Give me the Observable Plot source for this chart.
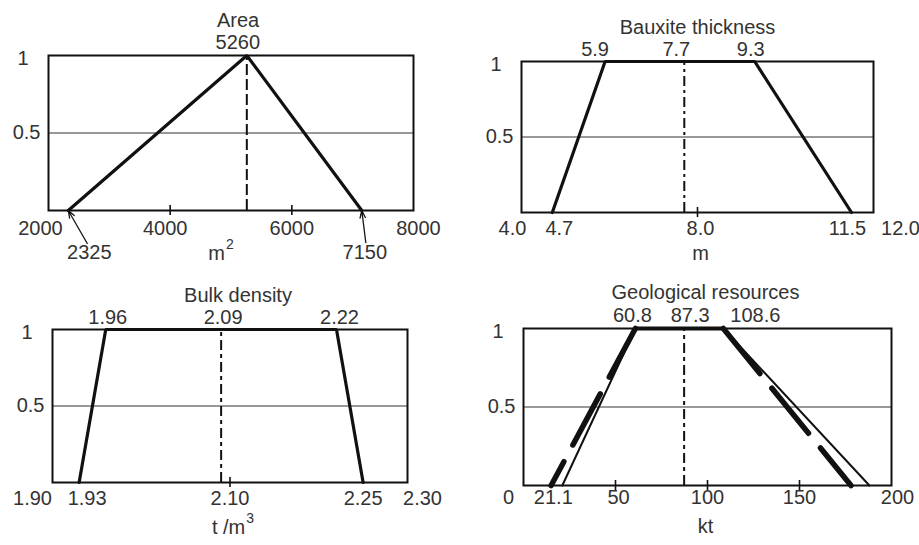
<!DOCTYPE html>
<html><head><meta charset="utf-8">
<script src="https://cdn.jsdelivr.net/npm/d3@7"></script>
<script src="https://cdn.jsdelivr.net/npm/@observablehq/plot@0.6"></script>
<style>
html,body{margin:0;padding:0;background:#fff;}
#wrap{position:relative;width:919px;height:545px;overflow:hidden;background:#fff;}
#wrap svg{position:absolute;overflow:visible;}
</style></head><body><div id="wrap"></div>
<script>
// ---------- Data ----------
// Area (m²)
const areaTitle = "Area";
const areaX = [2325, 5260, 7150];
const areaY = [0, 1, 0];
const areaMode = 5260;
const areaAxisLabels = ["2000", "4000", "6000", "8000"];
const areaTicks = [4000, 6000];
const areaTopLabels = ["5260"];
const areaArrowLabels = ["2325", "7150"];
const areaUnit = ["m", "2"];

// Bauxite thickness (m)
const thickTitle = "Bauxite thickness";
const thickX = [4.7, 5.9, 9.3, 11.5];
const thickY = [0, 1, 1, 0];
const thickMode = 7.7;
const thickAxisLabels = ["4.0", "4.7", "8.0", "11.5", "12.0"];
const thickTicks = [8.0];
const thickTopLabels = ["5.9", "7.7", "9.3"];
const thickUnit = ["m", ""];

// Bulk density (t/m³)
const densTitle = "Bulk density";
const densX = [1.93, 1.96, 2.22, 2.25];
const densY = [0, 1, 1, 0];
const densMode = 2.09;
const densAxisLabels = ["1.90", "1.93", "2.10", "2.25", "2.30"];
const densTicks = [2.10];
const densTopLabels = ["1.96", "2.09", "2.22"];
const densUnit = ["t /m", "3"];

// Geological resources (kt)
const geoTitle = "Geological resources";
const geoX = [21.1, 60.8, 108.6, 188];
const geoY = [0, 1, 1, 0];
const geoDashX = [15, 60.8, 108.6, 178];
const geoDashY = [0, 1, 1, 0];
const geoMode = 87.3;
const geoAxisLabels = ["0", "21.1", "50", "100", "150", "200"];
const geoTicks = [50, 100, 150];
const geoTopLabels = ["60.8", "87.3", "108.6"];
const geoUnit = ["kt", ""];

// ---------- Rendering ----------
const FONT = 20;
const SUP = 14;
const INK = "#111";
const TXT = "#333";
const FAMILY = "'Liberation Sans', Arial, Helvetica, sans-serif";
const recs = (xs, ys) => xs.map((x, i) => ({x, y: ys[i]}));
const ctx = document.createElement("canvas").getContext("2d");
function textWidth(s, size) { ctx.font = size + "px 'Liberation Sans', Arial, sans-serif"; return ctx.measureText(s).width; }

function buildPanel(cfg) {
  const fw = cfg.width - cfg.ml - cfg.mr;
  const fh = cfg.height - cfg.mt - cfg.mb;
  const [x0, x1] = cfg.domain;
  const ux = (x1 - x0) / fw;
  const uy = 1 / fh;
  const t = {fontSize: FONT, fill: TXT, lineAnchor: "middle"};
  const marks = [
    Plot.ruleY([0.5], {stroke: "#333", strokeWidth: 1}),
    Plot.ruleX([cfg.mode], {y1: 0, y2: 1, stroke: INK, strokeWidth: 2, strokeDasharray: cfg.modeDash}),
    Plot.ruleX(cfg.ticks, {x: d => d, y1: -5 * uy, y2: 5 * uy, stroke: INK, strokeWidth: 1.6}),
    Plot.frame({stroke: INK, strokeWidth: 2})
  ];
  for (const c of cfg.curves) marks.push(c);
  // y labels
  marks.push(Plot.text(["1"], {...t, x: x0, y: 1, text: d => d, textAnchor: "end", dx: -20, dy: 3}));
  marks.push(Plot.text(["0.5"], {...t, x: x0, y: 0.5, text: d => d, textAnchor: "end", dx: -8}));
  // bottom labels
  for (const lab of cfg.axisLabels) {
    marks.push(Plot.text([lab], {...t, x: +lab, y: 0, text: d => d, dy: cfg.bottomDy, dx: (cfg.bottomDx[lab] || 0)}));
  }
  // top labels
  for (const lab of cfg.topLabels) {
    marks.push(Plot.text([lab], {...t, x: +lab, y: 1, text: d => d, dy: cfg.topDy, dx: (cfg.topDx[lab] || 0)}));
  }
  // arrows + labels below (Area panel)
  if (cfg.arrowLabels) {
    for (const lab of cfg.arrowLabels) {
      const a = cfg.arrowOffsets[lab];
      marks.push(Plot.arrow([+lab], {x1: d => d + a.sx * ux, y1: -a.sy * uy, x2: d => d, y2: 0,
        stroke: INK, strokeWidth: 1.3, headLength: 9, headAngle: 40}));
      marks.push(Plot.text([lab], {...t, x: +lab, y: 0, text: d => d, dx: a.lx, dy: 42}));
    }
  }
  // title
  marks.push(Plot.text([cfg.title], {...t, frameAnchor: "top", text: d => d, dy: cfg.titleDy, dx: cfg.titleDx || 0}));
  // unit with optional superscript
  const [base, sup] = cfg.unit;
  const bw = textWidth(base, FONT), sw = sup ? textWidth(sup, SUP) + 1 : 0;
  const startDx = (cfg.unitDx || 0) - (bw + sw) / 2;
  marks.push(Plot.text([base], {...t, frameAnchor: "bottom", text: d => d, textAnchor: "start", dy: cfg.unitDy, dx: startDx}));
  if (sup) marks.push(Plot.text([sup], {...t, fontSize: SUP, frameAnchor: "bottom", text: d => d, textAnchor: "start", dy: cfg.unitDy - 9, dx: startDx + bw + 1}));

  const svg = Plot.plot({
    width: cfg.width, height: cfg.height,
    marginLeft: cfg.ml, marginRight: cfg.mr, marginTop: cfg.mt, marginBottom: cfg.mb,
    x: {domain: cfg.domain, axis: null},
    y: {domain: [0, 1], axis: null},
    style: {fontFamily: FAMILY, fontSize: FONT + "px", background: "transparent", overflow: "visible"},
    marks
  });
  svg.style.position = "absolute";
  svg.style.left = cfg.left + "px";
  svg.style.top = cfg.top + "px";
  svg.style.maxWidth = "none";
  document.getElementById("wrap").appendChild(svg);
}

const thick = {stroke: INK, strokeWidth: 3.2, strokeLinejoin: "miter"};

// Panel 1: Area
buildPanel({
  left: 0, top: 0, width: 460, height: 270, ml: 48, mr: 47, mt: 55, mb: 60,
  domain: [2000, 8000], mode: areaMode, modeDash: "11,4", ticks: areaTicks,
  curves: [Plot.line(recs(areaX, areaY), {x: "x", y: "y", ...thick})],
  axisLabels: areaAxisLabels, bottomDy: 18, bottomDx: {"2000": -8, "4000": -5, "8000": 5},
  topLabels: areaTopLabels, topDy: -13, topDx: {"5260": -9},
  arrowLabels: areaArrowLabels,
  arrowOffsets: {"2325": {sx: 19, sy: 33, lx: 21}, "7150": {sx: 4, sy: 32, lx: 3}},
  title: areaTitle, titleDy: -35, titleDx: 7, unit: areaUnit, unitDy: 43, unitDx: -10
});

// Panel 2: Bauxite thickness
buildPanel({
  left: 460, top: 0, width: 459, height: 270, ml: 61, mr: 46, mt: 61, mb: 58,
  domain: [4, 12], mode: thickMode, modeDash: "10,4,3,4", ticks: thickTicks,
  curves: [Plot.line(recs(thickX, thickY), {x: "x", y: "y", ...thick})],
  axisLabels: thickAxisLabels, bottomDy: 16, bottomDx: {"4.0": -9, "4.7": 7, "8.0": 3, "11.5": -4, "12.0": 27},
  topLabels: thickTopLabels, topDy: -12, topDx: {"5.9": -10, "7.7": -8, "9.3": -4},
  title: thickTitle, titleDy: -34, unit: thickUnit, unitDy: 41, unitDx: 3
});

// Panel 3: Bulk density
buildPanel({
  left: 0, top: 270, width: 460, height: 275, ml: 52, mr: 53, mt: 59, mb: 63,
  domain: [1.9, 2.3], mode: densMode, modeDash: "10,4,4,4", ticks: densTicks,
  curves: [Plot.line(recs(densX, densY), {x: "x", y: "y", ...thick})],
  axisLabels: densAxisLabels, bottomDy: 16, bottomDx: {"1.90": -20, "1.93": 8, "2.30": 15},
  topLabels: densTopLabels, topDy: -12, topDx: {"1.96": 2, "2.09": 2, "2.22": 3},
  title: densTitle, titleDy: -34, titleDx: 8, unit: densUnit, unitDy: 45, unitDx: 3
});

// Panel 4: Geological resources
const geoSolid = recs(geoX, geoY);
const geoDash = recs(geoDashX, geoDashY);
buildPanel({
  left: 460, top: 270, width: 459, height: 275, ml: 63, mr: 28, mt: 58, mb: 60,
  domain: [0, 200], mode: geoMode, modeDash: "10,4,4,4", ticks: geoTicks,
  curves: [
    Plot.line(geoSolid, {x: "x", y: "y", stroke: INK, strokeWidth: 2}),
    Plot.line(geoDash.slice(0, 2), {x: "x", y: "y", stroke: INK, strokeWidth: 5.5, strokeDasharray: "58,19", strokeDashoffset: 31}),
    Plot.line(geoDash.slice(1, 3), {x: "x", y: "y", stroke: INK, strokeWidth: 4}),
    Plot.line(geoDash.slice(2, 4), {x: "x", y: "y", stroke: INK, strokeWidth: 5.5, strokeDasharray: "58,19", strokeDashoffset: 0})
  ],
  axisLabels: geoAxisLabels, bottomDy: 12, bottomDx: {"0": -15, "21.1": -9, "50": 3, "200": 6},
  topLabels: geoTopLabels, topDy: -13, topDx: {"60.8": -3, "87.3": 6, "108.6": 32},
  title: geoTitle, titleDy: -36, titleDx: -2, unit: geoUnit, unitDy: 41, unitDx: -2
});
</script>
</body></html>
